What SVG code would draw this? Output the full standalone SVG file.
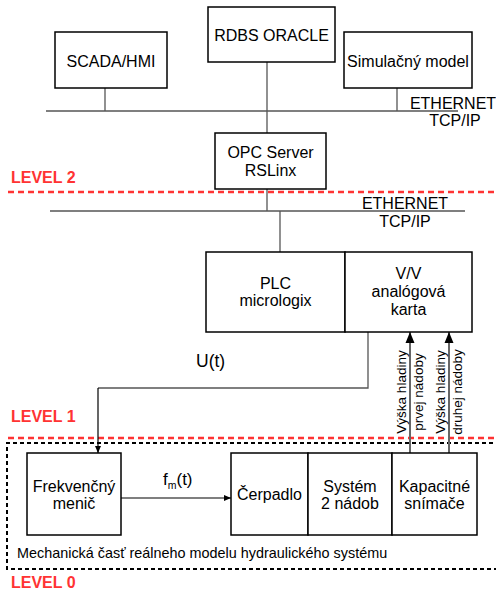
<svg xmlns="http://www.w3.org/2000/svg" width="496" height="595" viewBox="0 0 496 595">
  <style>
    .box { fill: #fff; stroke: #000; stroke-width: 1.5; }
    .wire { fill: none; stroke: #555; stroke-width: 1.3; }
    .sig { fill: none; stroke: #000; stroke-width: 1.2; }
    .up { fill: none; stroke: #666; stroke-width: 2; }
    .t { font-family: "Liberation Sans", Arial, sans-serif; font-size: 16px; fill: #000; text-anchor: middle; }
    .ts { font-family: "Liberation Sans", Arial, sans-serif; font-size: 13.5px; fill: #000; text-anchor: middle; }
    .cap { font-family: "Liberation Sans", Arial, sans-serif; font-size: 14.4px; fill: #000; }
    .lvl { font-family: "Liberation Sans", Arial, sans-serif; font-size: 16px; font-weight: bold; fill: #f33; }
    .red { stroke: #f33; stroke-width: 2.5; stroke-dasharray: 6 4; fill: none; }
    .blk { stroke: #000; stroke-width: 2; stroke-dasharray: 4 3; fill: none; }
  </style>
  <defs>
    <marker id="tip" markerWidth="8" markerHeight="8" refX="7" refY="4" orient="auto" markerUnits="userSpaceOnUse">
      <path d="M0,1 L7,4 L0,7 Z" fill="#000"/>
    </marker>
    <marker id="tipBig" markerWidth="12" markerHeight="10" refX="11" refY="5" orient="auto" markerUnits="userSpaceOnUse">
      <path d="M0,0.5 L11,5 L0,9.5 Z" fill="#000"/>
    </marker>
  </defs>

  <!-- level separators and plant boundary -->
  <line class="red" x1="8" y1="192" x2="496" y2="192"/>
  <line class="red" x1="8" y1="438" x2="496" y2="438"/>
  <path class="blk" d="M500,443 H7 V569 H500"/>
  <text class="lvl" x="11" y="183">LEVEL 2</text>
  <text class="lvl" x="11" y="422">LEVEL 1</text>
  <text class="lvl" x="11" y="588">LEVEL 0</text>

  <!-- connectors -->
  <g id="connectors">
    <line class="wire" x1="46" y1="111" x2="458" y2="111"/>
    <line class="wire" x1="105" y1="88" x2="105" y2="111"/>
    <line class="wire" x1="397" y1="88" x2="397" y2="111"/>
    <line class="wire" x1="267" y1="62" x2="267" y2="133"/>
    <line class="wire" x1="50" y1="211" x2="465" y2="211"/>
    <line class="wire" x1="267" y1="189" x2="267" y2="211"/>
    <line class="wire" x1="280" y1="211" x2="280" y2="252"/>
    <path class="wire" d="M368,332 V388 H98"/>
    <line class="sig" x1="98" y1="388" x2="98" y2="453" marker-end="url(#tip)"/>
    <line class="sig" x1="121" y1="498" x2="231" y2="498" marker-end="url(#tip)"/>
    <line class="up" x1="410" y1="453" x2="410" y2="332" marker-end="url(#tipBig)"/>
    <line class="up" x1="449" y1="453" x2="449" y2="332" marker-end="url(#tipBig)"/>
  </g>

  <!-- network labels -->
  <text class="t" x="453" y="109">ETHERNET</text>
  <text class="t" x="455" y="126">TCP/IP</text>
  <text class="t" x="405" y="209">ETHERNET</text>
  <text class="t" x="405" y="227">TCP/IP</text>

  <!-- signal labels -->
  <text class="t" x="196" y="367" style="text-anchor:start;font-size:17.5px">U(t)</text>
  <text class="t" x="163" y="485" style="text-anchor:start;font-size:17px">f<tspan font-size="10.5" dy="4">m</tspan><tspan dy="-4">(t)</tspan></text>
  <text class="ts" transform="translate(406,392) rotate(-90)">Výška hladiny</text>
  <text class="ts" transform="translate(423,392) rotate(-90)">prvej nádoby</text>
  <text class="ts" transform="translate(445,392) rotate(-90)">Výška hladiny</text>
  <text class="ts" transform="translate(462,392) rotate(-90)">druhej nádoby</text>

  <g id="scada">
    <rect class="box" x="55" y="32" width="112" height="56"/>
    <text class="t" x="111" y="67">SCADA/HMI</text>
  </g>
  <g id="rdbs">
    <rect class="box" x="208" y="7" width="127" height="55"/>
    <text class="t" x="271.5" y="41">RDBS ORACLE</text>
  </g>
  <g id="simulacny">
    <rect class="box" x="344" y="32" width="128" height="56"/>
    <text class="t" x="408" y="67">Simulačný model</text>
  </g>
  <g id="opc">
    <rect class="box" x="215" y="133" width="111" height="56"/>
    <text class="t" x="270.5" y="158">OPC Server</text>
    <text class="t" x="270.5" y="176">RSLinx</text>
  </g>
  <g id="plc">
    <rect class="box" x="206" y="252" width="139" height="80"/>
    <text class="t" x="275.5" y="289">PLC</text>
    <text class="t" x="275.5" y="306">micrologix</text>
  </g>
  <g id="vv">
    <rect class="box" x="345" y="252" width="127" height="80"/>
    <text class="t" x="408.5" y="279">V/V</text>
    <text class="t" x="408.5" y="297">analógová</text>
    <text class="t" x="408.5" y="315">karta</text>
  </g>
  <g id="menic">
    <rect class="box" x="27" y="453" width="94" height="82"/>
    <text class="t" x="74" y="492">Frekvenčný</text>
    <text class="t" x="74" y="509">menič</text>
  </g>
  <g id="cerpadlo">
    <rect class="box" x="231" y="453" width="77" height="82"/>
    <text class="t" x="269.5" y="500">Čerpadlo</text>
  </g>
  <g id="system">
    <rect class="box" x="308" y="453" width="84" height="82"/>
    <text class="t" x="350" y="492">Systém</text>
    <text class="t" x="350" y="509">2 nádob</text>
  </g>
  <g id="kapacitne">
    <rect class="box" x="392" y="453" width="85" height="82"/>
    <text class="t" x="434.5" y="492">Kapacitné</text>
    <text class="t" x="434.5" y="509">snímače</text>
  </g>

  <text class="cap" x="17" y="558">Mechanická časť reálneho modelu hydraulického systému</text>
</svg>
